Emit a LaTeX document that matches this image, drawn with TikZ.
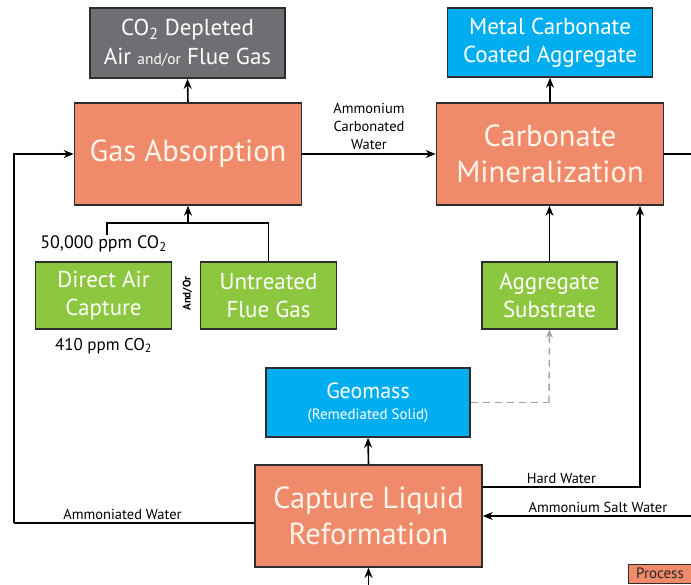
\documentclass[tikz,border=0pt]{standalone}
\usepackage{fontspec}
\setmainfont{PT Sans}
\usetikzlibrary{arrows.meta}

\definecolor{procfill}{RGB}{239,139,106}
\definecolor{gasfill}{RGB}{110,111,114}
\definecolor{prodfill}{RGB}{0,174,239}
\definecolor{feedfill}{RGB}{141,198,63}
\definecolor{boxline}{RGB}{45,45,45}
\definecolor{proctext}{RGB}{255,244,234}

\tikzset{
  basebox/.style={draw=boxline, line width=1.6pt, align=center, inner sep=2pt,
    text=white},
  procbox/.style={basebox, fill=procfill, text=proctext, font=\fontsize{30.5}{36}\selectfont,
    minimum width=227pt, minimum height=102pt},
  outbox/.style={basebox, font=\fontsize{23}{28.5}\selectfont,
    minimum width=205pt, minimum height=69pt},
  feedbox/.style={basebox, fill=feedfill, font=\fontsize{23}{28}\selectfont,
    minimum width=136pt, minimum height=67pt},
  flow/.style={line width=1.6pt, draw=black, -{Stealth[length=10pt,width=8pt]}},
  plainflow/.style={line width=1.6pt, draw=black},
  lbl/.style={font=\fontsize{14.5}{18}\selectfont, align=center, text=black, inner sep=1pt},
}

\begin{document}
\begin{tikzpicture}[x=1pt, y=-1pt]
  \useasboundingbox (0,0) rectangle (691,584);
  \clip (0,0) rectangle (691,584);

  % process blocks
  \node[procbox] (ga)  at (188,154) {Gas Absorption};
  \node[procbox] (cm)  at (550,154) {Carbonate\\Mineralization};
  \node[procbox] (clr) at (368.5,516) {Capture Liquid\\Reformation};

  % outputs
  \node[outbox, fill=gasfill, minimum width=195pt, minimum height=70pt] (co2) at (187.5,43)
    {CO\textsubscript{2} Depleted\\Air {\fontsize{15.5}{17}\selectfont and/or} Flue Gas};
  \node[outbox, fill=prodfill] (mc) at (550,42.5) {Metal Carbonate\\Coated Aggregate};
  \node[outbox, fill=prodfill, font=\fontsize{22}{24}\selectfont, minimum width=204pt] (geo) at (368,402.5)
    {Geomass\\[-3pt]{\fontsize{15}{17}\selectfont (Remediated Solid)}};

  % feeds
  \node[feedbox] (dac) at (103.5,295.5) {Direct Air\\Capture};
  \node[feedbox] (ufg) at (268.5,295.5) {Untreated\\Flue Gas};
  \node[feedbox, minimum width=135pt] (as) at (549.5,295.5) {Aggregate\\Substrate};

  % legend entry
  \node[draw=boxline, line width=1.4pt, fill=procfill, anchor=north west,
    minimum width=80pt, minimum height=19pt, inner sep=2pt, text=black!85,
    font=\fontsize{15}{16}\selectfont, text width=70pt, align=left] (legend) at (627.5,563.5) {\hspace*{3pt}Process};

  % gas side
  \draw[flow] (ga.north) -- (co2.south);
  \coordinate (dacend) at (107,235);
  \coordinate (join) at (ga.south |- 0,223);
  \draw[plainflow] (dacend) |- (join) -| (ufg.north);
  \draw[flow] (join) -- (ga.south);

  \node[lbl, font=\fontsize{18}{20}\selectfont] (hi) at (103.5,244) {50,000 ppm CO\textsubscript{2}};
  \node[lbl, font=\fontsize{17}{20}\selectfont] (lo) at (103.5,346) {410 ppm CO\textsubscript{2}};
  \node[lbl, rotate=90, font=\fontsize{11}{12}\bfseries] (andor) at (187.5,293.5) {And/Or};

  % carbonation side
  \draw[flow] (ga.east) -- node[lbl, above=3pt] (acw) {Ammonium\\Carbonated\\Water} (cm.west);
  \draw[flow] (cm.north) -- (mc.south);
  \coordinate (cmout) at (700,154);
  \draw[plainflow] (cm.east) -- (cmout);
  \draw[flow] (as.north) -- (as.north |- cm.south);

  % regeneration loop
  \draw[flow] (clr.north) -- (geo.south);
  \coordinate (feedin) at (368.5,600);
  \draw[flow] (feedin) -- (clr.south);

  \coordinate (hwturn) at (640,487);
  \draw[flow] (clr.east |- hwturn) -- node[lbl, above=2pt, pos=0.5] (hw) {Hard Water} (hwturn) -- (hwturn |- cm.south);

  \coordinate (asw) at (700,516);
  \draw[flow] (asw) -- node[lbl, above=2pt, pos=0.47] (aswl) {Ammonium Salt Water} (clr.east);

  \coordinate (dashturn) at (549,402.5);
  \draw[line width=1.4pt, draw=gray!75, dash pattern=on 7pt off 5pt] (geo.east) -- (dashturn);
  \draw[line width=1.4pt, draw=gray!75, dash pattern=on 7pt off 5pt, -{Stealth[length=8pt,width=7pt]}]
    (dashturn) -- (as.south);

  \coordinate (aw) at (255,523);
  \coordinate (leftturn) at (14,523);
  \draw[plainflow] (aw) -- node[lbl, above=2pt, pos=0.55] (awl) {Ammoniated Water} (leftturn);
  \draw[flow] (leftturn) |- (ga.west);
\end{tikzpicture}
\end{document}
